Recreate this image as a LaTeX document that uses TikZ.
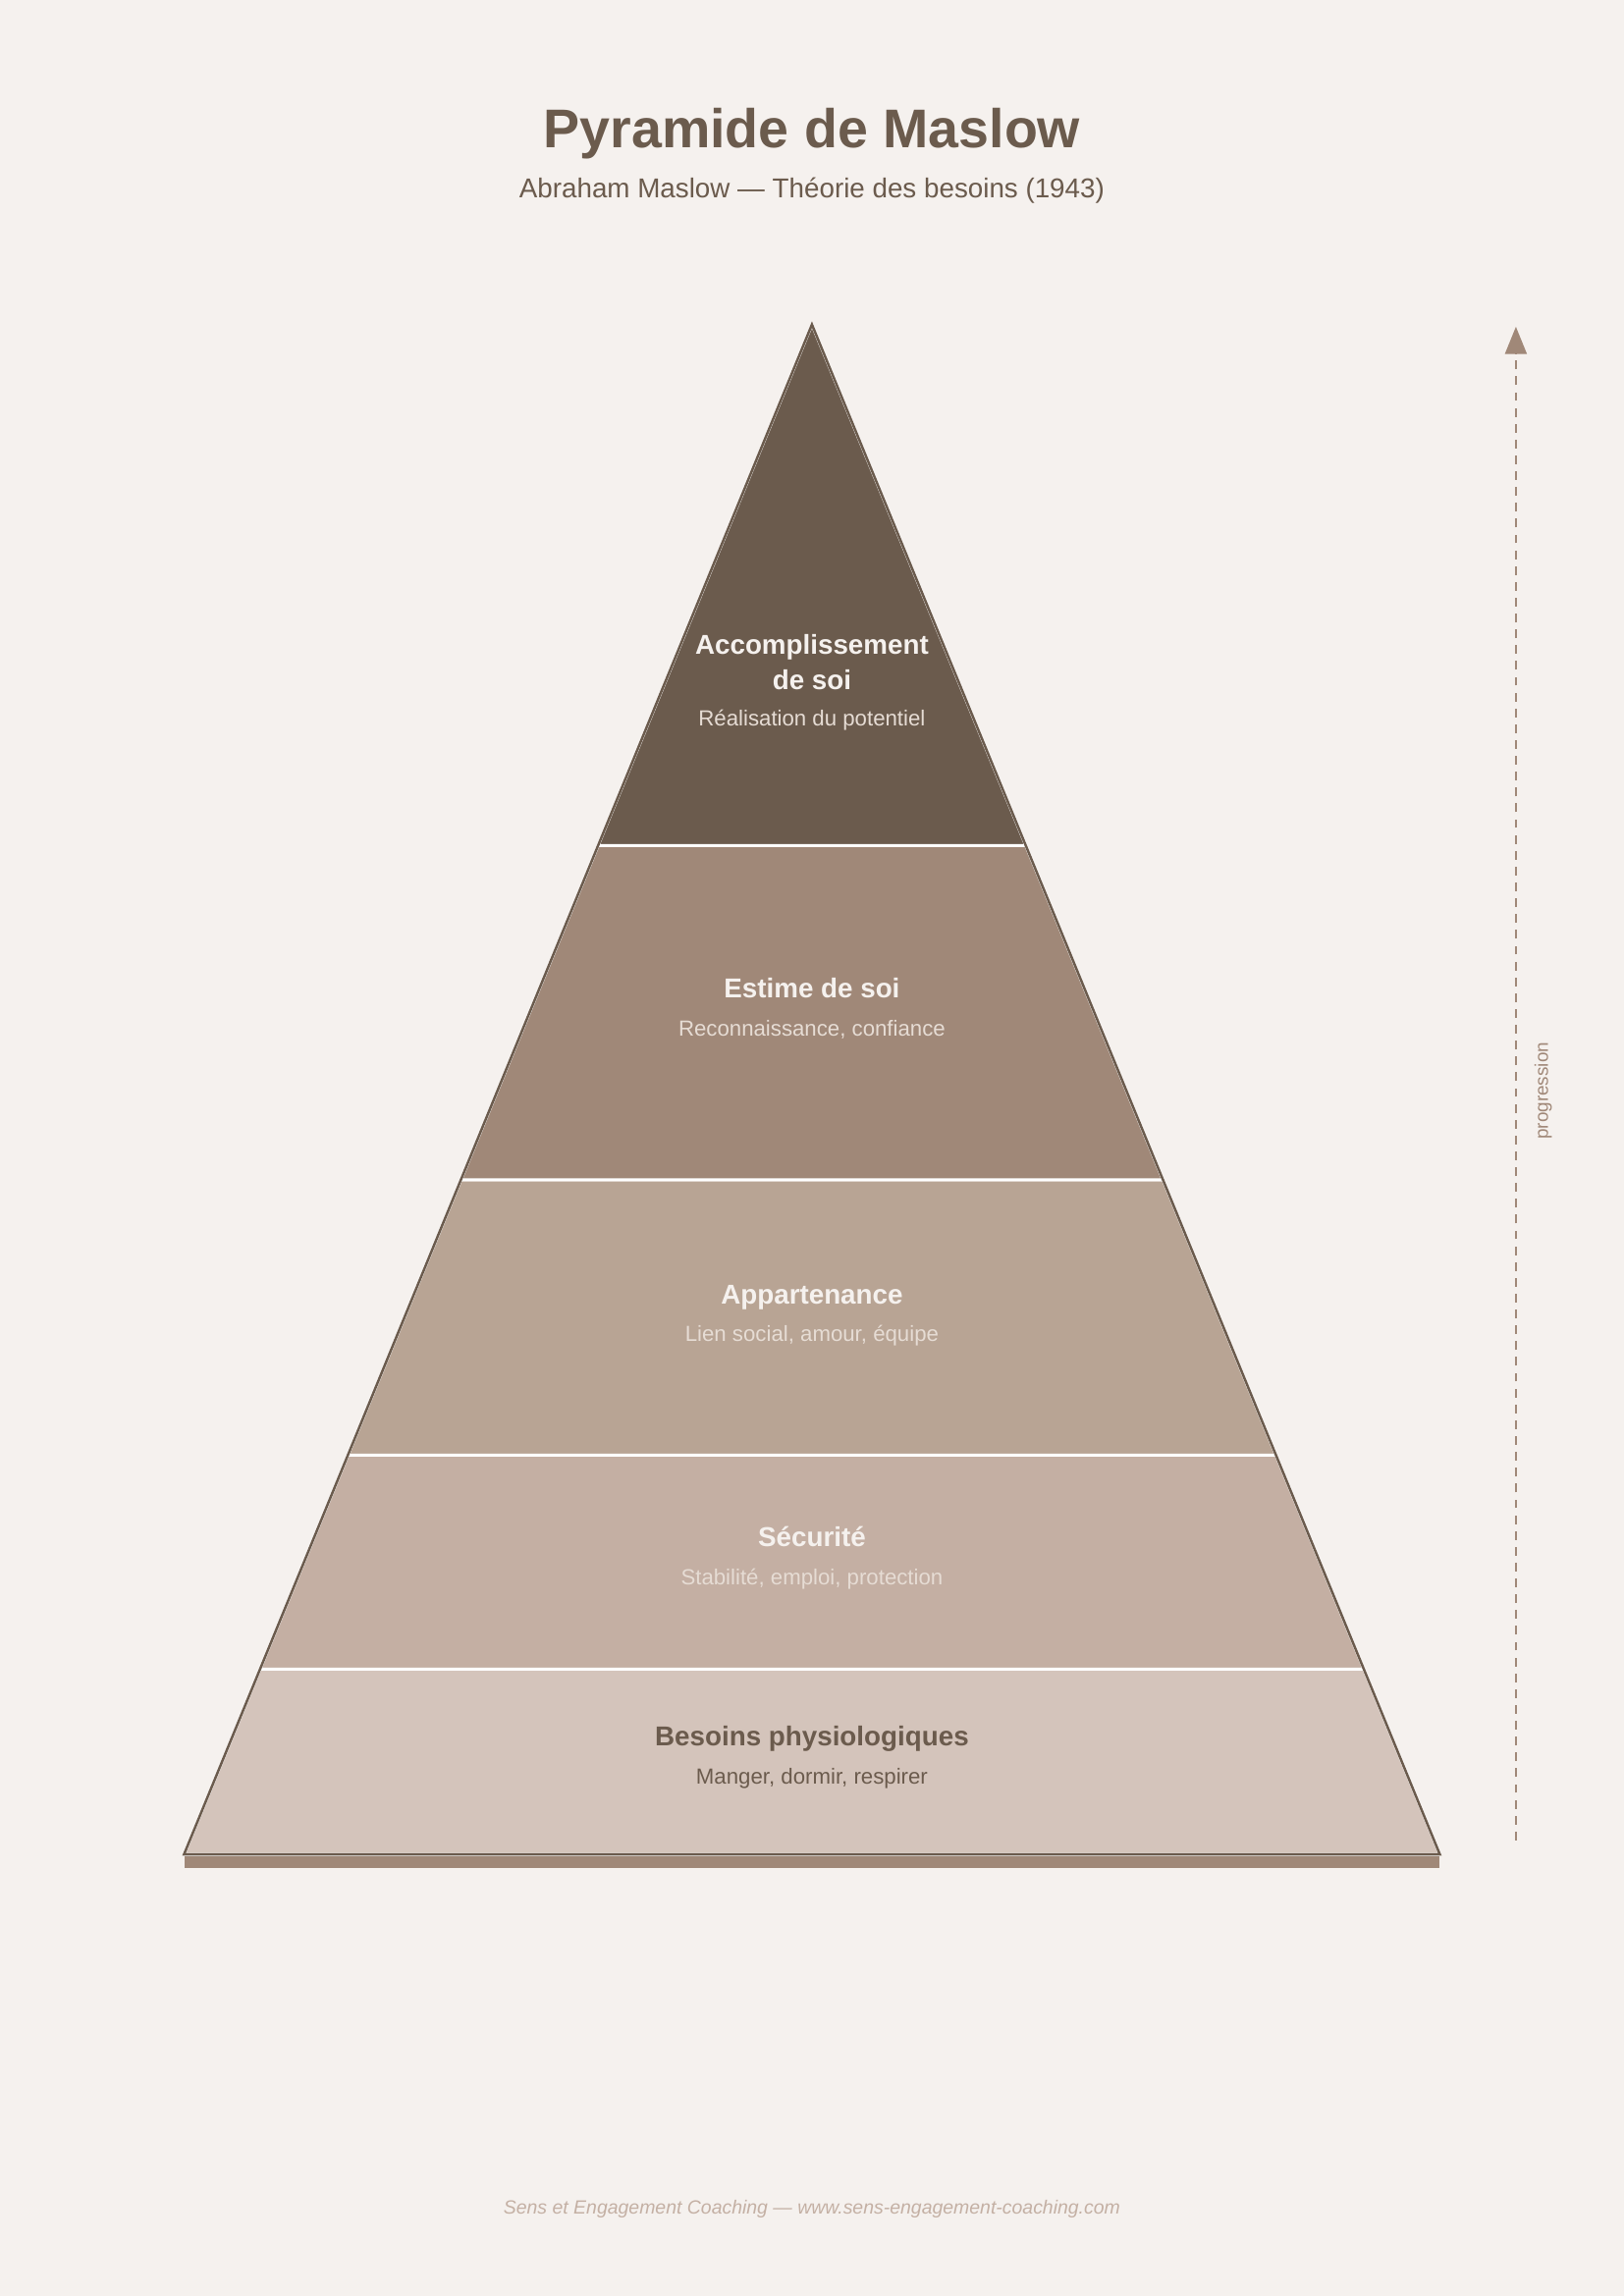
\documentclass[tikz,border=0pt]{standalone}
\usepackage{fontspec}
\setmainfont{Liberation Sans}
\usetikzlibrary{calc,arrows.meta}
\definecolor{bg}{HTML}{F5F1EE}
\definecolor{dark}{HTML}{6B5B4D}
\definecolor{lay2}{HTML}{A08878}
\definecolor{lay3}{HTML}{B8A494}
\definecolor{lay4}{HTML}{C4AFA3}
\definecolor{lay5}{HTML}{D4C4BB}
\definecolor{sublight}{HTML}{E6DCD4}
\definecolor{foot}{HTML}{C4B0A4}
\begin{document}
\begin{tikzpicture}[x=1pt,y=-1pt,
  layer/.style={draw=white, line width=1.1pt, line join=round},
  lbl/.style={anchor=base, inner sep=0pt, font=\fontsize{10}{12}\selectfont\bfseries, text=bg},
  sublbl/.style={anchor=base, inner sep=0pt, font=\fontsize{8}{10}\selectfont, text=sublight}]
\fill[bg] (0,0) rectangle (595.28,841.89);
\useasboundingbox (0,0) rectangle (595.28,841.89);
% title
\node[anchor=base, inner sep=0pt, text=dark, font=\fontsize{20}{24}\selectfont\bfseries] (title) at (297.64,54) {Pyramide de Maslow};
\node[anchor=base, inner sep=0pt, text=dark, font=\fontsize{10}{12}\selectfont] (subtitle) at (297.64,72.6) {Abraham Maslow — Théorie des besoins (1943)};
% pyramid geometry
\coordinate (apex) at (297.64,119);
\coordinate (bl) at (67.44,680);
\coordinate (br) at (527.84,680);
\coordinate (l1) at ($(apex)!0.3405!(bl)$);
\coordinate (r1) at ($(apex)!0.3405!(br)$);
\coordinate (l2) at ($(apex)!0.5590!(bl)$);
\coordinate (r2) at ($(apex)!0.5590!(br)$);
\coordinate (l3) at ($(apex)!0.7390!(bl)$);
\coordinate (r3) at ($(apex)!0.7390!(br)$);
\coordinate (l4) at ($(apex)!0.8788!(bl)$);
\coordinate (r4) at ($(apex)!0.8788!(br)$);
% base shadow
\fill[lay2] (67.6,680) rectangle (527.6,685);
% layers
\filldraw[layer, fill=lay5] (l4) -- (r4) -- (br) -- (bl) -- cycle;
\filldraw[layer, fill=lay4] (l3) -- (r3) -- (r4) -- (l4) -- cycle;
\filldraw[layer, fill=lay3] (l2) -- (r2) -- (r3) -- (l3) -- cycle;
\filldraw[layer, fill=lay2] (l1) -- (r1) -- (r2) -- (l2) -- cycle;
\filldraw[layer, fill=dark] (apex) -- (r1) -- (l1) -- cycle;
% outline
\draw[dark, line width=0.9pt, line join=miter] (apex) -- (br) -- (bl) -- cycle;
% labels
\node[lbl] (acc1) at (297.64,240) {Accomplissement};
\node[lbl] (acc2) at (297.64,253) {de soi};
\node[sublbl] (accs) at (297.64,266.3) {Réalisation du potentiel};
\node[lbl] (est) at (297.64,366) {Estime de soi};
\node[sublbl] (ests) at (297.64,379.8) {Reconnaissance, confiance};
\node[lbl] (app) at (297.64,478.2) {Appartenance};
\node[sublbl] (apps) at (297.64,492) {Lien social, amour, équipe};
\node[lbl] (sec) at (297.64,567.2) {Sécurité};
\node[sublbl] (secs) at (297.64,581.2) {Stabilité, emploi, protection};
\node[lbl, text=dark] (bes) at (297.64,640.3) {Besoins physiologiques};
\node[sublbl, text=dark] (bess) at (297.64,654.1) {Manger, dormir, respirer};
% progression arrow
\coordinate (ptop) at (555.7,119.8);
\coordinate (pbot) at (555.7,674.8);
\draw[lay2, line width=0.85pt, dash pattern=on 3.2pt off 2.6pt, -{Triangle[width=7.9pt,length=10pt]}] (pbot) -- (ptop);
\node[rotate=90, inner sep=0pt, text=lay2, font=\fontsize{6.8}{8}\selectfont] (prog) at (565.7,400) {progression};
% footer
\node[anchor=base, inner sep=0pt, text=foot, font=\fontsize{7}{9}\selectfont\itshape] (footer) at (297.64,812) {Sens et Engagement Coaching — www.sens-engagement-coaching.com};
\end{tikzpicture}
\end{document}
